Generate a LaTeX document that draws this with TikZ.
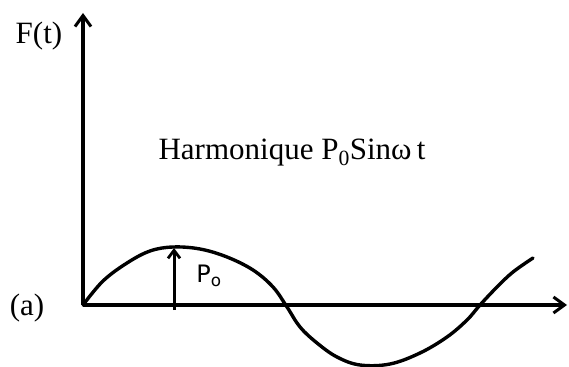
\documentclass[tikz,border=0pt]{standalone}
\usepackage{fontspec}
\setmainfont{Liberation Serif}
\newfontfamily\handfont{DejaVu Sans}
\usetikzlibrary{arrows.meta, positioning}

\begin{document}
\begin{tikzpicture}[x=1pt, y=-1pt,
  axis/.style={line width=3.2pt, -{Straight Barb[length=11pt, width=16pt, line width=3pt]}},
  wave/.style={line width=3.4pt, line join=round, line cap=round},
  lbl/.style={inner sep=0pt, font=\fontsize{31}{36}\selectfont}]
  \useasboundingbox (0,0) rectangle (569,366);
  % Axes
  \coordinate (O) at (83,305);
  \coordinate (ytop) at (83,13);
  \coordinate (xend) at (567,305);
  \draw[axis] (O) -- (ytop);
  \draw[axis] (O) -- (xend);
  \node[lbl] (Ft) at (39,36) {F(t)};
  \node[lbl] (a) at (27,308) {(a)};
  % Harmonic load
  \draw[wave] plot[smooth, tension=0.6] coordinates {
    (83,305) (103,281) (127,263) (150,251) (173,247) (200,249) (227,257)
    (253,270) (273,287) (287,307) (300,327) (317,343) (337,357) (360,365)
    (390,364) (420,353) (447,337) (467,320) (480,305) (497,287) (513,272) (533,258)};
  \node[lbl] (title) at (292,153) {Harmonique P\textsubscript{0}Sinω\,t};
  % Amplitude
  \coordinate (pfoot) at (174,310);
  \coordinate (peak) at (174,248);
  \draw[line width=3pt, -{Straight Barb[length=8pt, width=12pt, line width=2.8pt]}] (pfoot) -- (peak);
  \node[inner sep=0pt, font=\handfont\fontsize{24}{28}\selectfont] (P0) at (209,276) {P\textsubscript{o}};
\end{tikzpicture}
\end{document}
